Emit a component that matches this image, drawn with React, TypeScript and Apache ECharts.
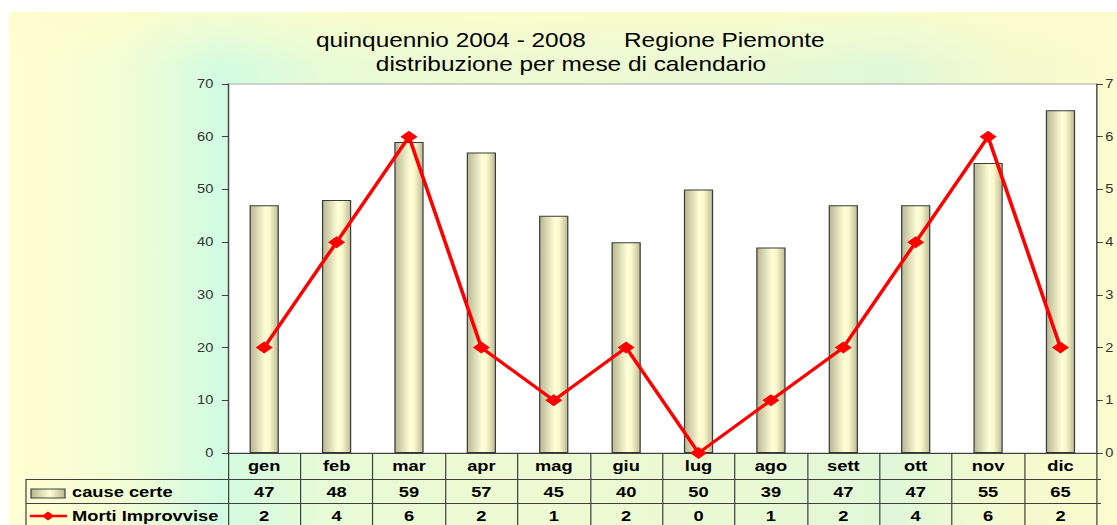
import React, { useEffect, useRef } from "react";
import * as echarts from "echarts";

// ---- data ----
const months = ["gen", "feb", "mar", "apr", "mag", "giu", "lug", "ago", "sett", "ott", "nov", "dic"];
const causeCerte = [47, 48, 59, 57, 45, 40, 50, 39, 47, 47, 55, 65];
const mortiImprovvise = [2, 4, 6, 2, 1, 2, 0, 1, 2, 4, 6, 2];
const seriesNames = ["cause certe", "Morti Improvvise"];
const titleLine1a = "quinquennio 2004 - 2008";
const titleLine1b = "Regione Piemonte";
const titleLine2 = "distribuzione per mese di calendario";
const leftAxis = { min: 0, max: 70, interval: 10 };
const rightAxis = { min: 0, max: 7, interval: 1 };

// ---- layout (reference is horizontally stretched) ----
const PAGE_W = 1117;
const PAGE_H = 525;
const INNER_W = 916;
const S = PAGE_W / INNER_W;
const X = (px: number) => px / S;
const FONT = '"Liberation Sans", Arial, Helvetica, sans-serif';

const GRID_L = 228;
const GRID_R = 1101;
const GRID_T = 84;
const GRID_B = 453;

export default function App() {
  const ref = useRef<HTMLDivElement>(null);

  useEffect(() => {
    if (!ref.current) return;
    const chart = echarts.init(ref.current, undefined, { renderer: "svg" });
    const lineColor = "#404040";
    const barGradient = new echarts.graphic.LinearGradient(0, 0, 1, 0, [
      { offset: 0, color: "#B8B792" },
      { offset: 0.55, color: "#FFFFD8" },
      { offset: 0.7, color: "#F8F8CA" },
      { offset: 1, color: "#BCBA96" },
    ]);
    const keyGradient = new echarts.graphic.LinearGradient(0, 0, 1, 0, [
      { offset: 0, color: "#B6B590" },
      { offset: 0.55, color: "#FFFFD6" },
      { offset: 1, color: "#BAB894" },
    ]);
    const tableL = X(26);
    const tableR = X(GRID_R);
    const dX = X(48);

    chart.setOption({
      animation: false,
      textStyle: { fontFamily: FONT },
      grid: {
        left: X(GRID_L),
        right: INNER_W - X(GRID_R),
        top: GRID_T,
        bottom: PAGE_H - GRID_B,
        show: true,
        backgroundColor: "#ffffff",
        borderColor: "#A8A8A8",
        borderWidth: 1,
        containLabel: false,
      },
      xAxis: [
        {
          type: "category",
          data: months,
          position: "bottom",
          axisLine: { show: true, lineStyle: { color: lineColor, width: 1 } },
          axisTick: { show: true, interval: 0, length: PAGE_H - GRID_B, lineStyle: { color: lineColor, width: 1 } },
          axisLabel: { interval: 0, margin: 6, fontSize: 15, fontWeight: "bold", color: "#000", fontFamily: FONT },
          splitLine: { show: false },
        },
        {
          type: "category",
          data: causeCerte.map(String),
          position: "bottom",
          offset: 26,
          axisLine: { show: false },
          axisTick: { show: false },
          axisLabel: { interval: 0, margin: 6, fontSize: 15, fontWeight: "bold", color: "#000", fontFamily: FONT },
          splitLine: { show: false },
        },
        {
          type: "category",
          data: mortiImprovvise.map(String),
          position: "bottom",
          offset: 50,
          axisLine: { show: false },
          axisTick: { show: false },
          axisLabel: { interval: 0, margin: 6, fontSize: 15, fontWeight: "bold", color: "#000", fontFamily: FONT },
          splitLine: { show: false },
        },
      ],
      yAxis: [
        {
          type: "value",
          position: "left",
          min: leftAxis.min,
          max: leftAxis.max,
          interval: leftAxis.interval,
          axisLine: { show: true, lineStyle: { color: lineColor, width: 1 } },
          axisTick: { show: true, length: 5, lineStyle: { color: lineColor } },
          axisLabel: { margin: 12, fontSize: 12, color: "#333", fontFamily: FONT },
          splitLine: { show: false },
        },
        {
          type: "value",
          position: "right",
          min: rightAxis.min,
          max: rightAxis.max,
          interval: rightAxis.interval,
          axisLine: { show: true, lineStyle: { color: lineColor, width: 1 } },
          axisTick: { show: true, length: 5, lineStyle: { color: lineColor } },
          axisLabel: { margin: 7, fontSize: 12, color: "#333", fontFamily: FONT },
          splitLine: { show: false },
        },
      ],
      series: [
        {
          name: seriesNames[0],
          type: "bar",
          xAxisIndex: 0,
          yAxisIndex: 0,
          data: causeCerte,
          barWidth: 24,
          itemStyle: { color: barGradient, borderColor: "#3a3a3a", borderWidth: 1 },
          z: 2,
        },
        {
          name: seriesNames[1],
          type: "line",
          xAxisIndex: 0,
          yAxisIndex: 1,
          data: mortiImprovvise,
          symbol: "diamond",
          symbolSize: [14, 12],
          lineStyle: { color: "#FF0000", width: 3 },
          itemStyle: { color: "#FF0000" },
          z: 3,
        },
      ],
      graphic: [
        {
          type: "text",
          x: X(316),
          y: 40,
          style: { text: titleLine1a, fontSize: 20, fontFamily: FONT, fill: "#000", verticalAlign: "middle", align: "left" },
        },
        {
          type: "text",
          x: X(624),
          y: 40,
          style: { text: titleLine1b, fontSize: 20, fontFamily: FONT, fill: "#000", verticalAlign: "middle", align: "left" },
        },
        {
          type: "text",
          x: X(571),
          y: 64,
          style: { text: titleLine2, fontSize: 20, fontFamily: FONT, fill: "#000", verticalAlign: "middle", align: "center" },
        },
        // table rules
        { type: "line", shape: { x1: tableL, y1: 479.5, x2: tableR, y2: 479.5 }, style: { stroke: lineColor, lineWidth: 1 } },
        { type: "line", shape: { x1: tableL, y1: 503.5, x2: tableR, y2: 503.5 }, style: { stroke: lineColor, lineWidth: 1 } },
        { type: "line", shape: { x1: tableL, y1: 479, x2: tableL, y2: PAGE_H }, style: { stroke: lineColor, lineWidth: 1 } },
        // legend keys
        {
          type: "rect",
          shape: { x: X(31), y: 489, width: X(34), height: 9 },
          style: { fill: keyGradient, stroke: lineColor, lineWidth: 1 },
        },
        {
          type: "text",
          x: X(72),
          y: 492,
          style: { text: seriesNames[0], fontSize: 15, fontWeight: "bold", fontFamily: FONT, fill: "#000", verticalAlign: "middle" },
        },
        { type: "line", shape: { x1: X(30), y1: 516, x2: X(67), y2: 516 }, style: { stroke: "#FF0000", lineWidth: 2.5 } },
        {
          type: "polygon",
          shape: { points: [[dX - 5, 516], [dX, 511.5], [dX + 5, 516], [dX, 520.5]] },
          style: { fill: "#FF0000" },
        },
        {
          type: "text",
          x: X(72),
          y: 516,
          style: { text: seriesNames[1], fontSize: 15, fontWeight: "bold", fontFamily: FONT, fill: "#000", verticalAlign: "middle" },
        },
      ],
    });
    return () => chart.dispose();
  }, []);

  return (
    <div
      style={{
        position: "fixed",
        left: 0,
        top: 0,
        width: PAGE_W,
        height: PAGE_H,
        overflow: "hidden",
        background: "#ffffff",
      }}
    >
      <div
        style={{
          position: "absolute",
          left: 9,
          top: 12,
          width: PAGE_W - 9,
          height: PAGE_H - 12,
          background:
            "linear-gradient(to bottom, rgba(252,253,205,0.85) 0px, rgba(252,253,205,0) 55px), " +
            "linear-gradient(to right, #FFFFD2 0%, #F4FDD4 10%, #D2FCE2 19%, #E6FBD6 28%, #EEFAD2 45%, #E8F9D4 68%, #E0F8D8 80%, #F4FACE 90%, #FAFCCF 100%)",
        }}
      />
      <div
        ref={ref}
        style={{
          position: "absolute",
          left: 0,
          top: 0,
          width: INNER_W,
          height: PAGE_H,
          transform: `scaleX(${S})`,
          transformOrigin: "0 0",
        }}
      />
    </div>
  );
}
